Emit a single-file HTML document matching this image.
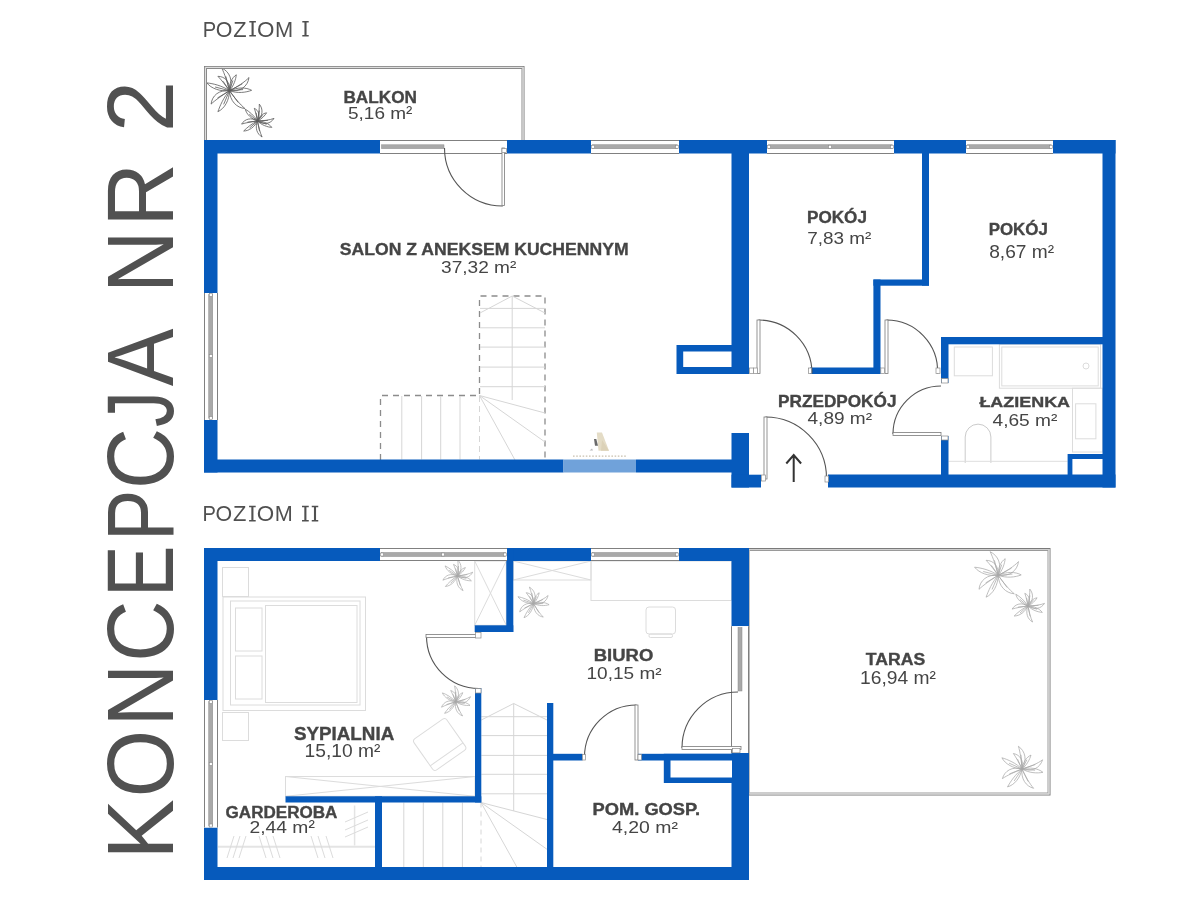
<!DOCTYPE html>
<html><head><meta charset="utf-8"><title>Koncepcja nr 2</title>
<style>html,body{margin:0;padding:0;background:#fff;width:1200px;height:900px;overflow:hidden}svg{display:block;font-family:"Liberation Sans",sans-serif;will-change:transform}</style></head><body>
<svg width="1200" height="900" viewBox="0 0 1200 900" font-family="Liberation Sans, sans-serif">
<rect width="1200" height="900" fill="#fff"/>
<path d="M380.5,460 V395.5 H479.5 V296 H545 V460" fill="none" stroke="#8c8c8c" stroke-width="1.3" stroke-dasharray="6,5"/>
<line x1="401.8" y1="396" x2="401.8" y2="459.5" stroke="#d6d6d6" stroke-width="1"/>
<line x1="421.6" y1="396" x2="421.6" y2="459.5" stroke="#d6d6d6" stroke-width="1"/>
<line x1="440.7" y1="396" x2="440.7" y2="459.5" stroke="#d6d6d6" stroke-width="1"/>
<line x1="460" y1="396" x2="460" y2="459.5" stroke="#d6d6d6" stroke-width="1"/>
<line x1="479.5" y1="396" x2="479.5" y2="459.5" stroke="#d6d6d6" stroke-width="1" stroke-dasharray="6,4"/>
<line x1="480" y1="308.4" x2="545" y2="308.4" stroke="#d6d6d6" stroke-width="1"/>
<line x1="480" y1="327.8" x2="545" y2="327.8" stroke="#d6d6d6" stroke-width="1"/>
<line x1="480" y1="347.1" x2="545" y2="347.1" stroke="#d6d6d6" stroke-width="1"/>
<line x1="480" y1="367.1" x2="545" y2="367.1" stroke="#d6d6d6" stroke-width="1"/>
<line x1="480" y1="386.7" x2="545" y2="386.7" stroke="#d6d6d6" stroke-width="1"/>
<line x1="512.2" y1="296" x2="512.2" y2="400" stroke="#d6d6d6" stroke-width="1"/>
<line x1="512.2" y1="296" x2="480" y2="313" stroke="#d6d6d6" stroke-width="1"/>
<line x1="512.2" y1="296" x2="545" y2="313" stroke="#d6d6d6" stroke-width="1"/>
<line x1="479.5" y1="395.5" x2="545" y2="413" stroke="#d6d6d6" stroke-width="1"/>
<line x1="479.5" y1="395.5" x2="545" y2="442" stroke="#d6d6d6" stroke-width="1"/>
<line x1="479.5" y1="395.5" x2="515" y2="460" stroke="#d6d6d6" stroke-width="1"/>
<line x1="481.3" y1="716.7" x2="547" y2="716.7" stroke="#d6d6d6" stroke-width="1"/>
<line x1="481.3" y1="735.6" x2="547" y2="735.6" stroke="#d6d6d6" stroke-width="1"/>
<line x1="481.3" y1="755.4" x2="547" y2="755.4" stroke="#d6d6d6" stroke-width="1"/>
<line x1="481.3" y1="774.3" x2="547" y2="774.3" stroke="#d6d6d6" stroke-width="1"/>
<line x1="481.3" y1="793.8" x2="547" y2="793.8" stroke="#d6d6d6" stroke-width="1"/>
<line x1="513.7" y1="703.5" x2="513.7" y2="811" stroke="#d6d6d6" stroke-width="1"/>
<line x1="513.7" y1="703.5" x2="481.3" y2="720" stroke="#d6d6d6" stroke-width="1"/>
<line x1="513.7" y1="703.5" x2="547" y2="720" stroke="#d6d6d6" stroke-width="1"/>
<line x1="481" y1="802.5" x2="547" y2="819.5" stroke="#d6d6d6" stroke-width="1"/>
<line x1="481" y1="802.5" x2="547" y2="849.3" stroke="#d6d6d6" stroke-width="1"/>
<line x1="481" y1="802.5" x2="516.8" y2="867" stroke="#d6d6d6" stroke-width="1"/>
<line x1="481" y1="802.5" x2="481" y2="867" stroke="#d6d6d6" stroke-width="1" stroke-dasharray="5,4"/>
<line x1="403.8" y1="802.5" x2="403.8" y2="867" stroke="#d6d6d6" stroke-width="1"/>
<line x1="423.3" y1="802.5" x2="423.3" y2="867" stroke="#d6d6d6" stroke-width="1"/>
<line x1="442.8" y1="802.5" x2="442.8" y2="867" stroke="#d6d6d6" stroke-width="1"/>
<line x1="462.4" y1="802.5" x2="462.4" y2="867" stroke="#d6d6d6" stroke-width="1"/>
<rect x="222.5" y="567.5" width="26.0" height="29.0" rx="0" fill="none" stroke="#dcdcdc" stroke-width="1"/>
<rect x="222.5" y="712.5" width="26.0" height="28.0" rx="0" fill="none" stroke="#dcdcdc" stroke-width="1"/>
<rect x="223" y="597" width="142.5" height="113.5" rx="0" fill="none" stroke="#dcdcdc" stroke-width="1"/>
<rect x="230.5" y="601" width="129.5" height="104" rx="0" fill="none" stroke="#dcdcdc" stroke-width="1"/>
<rect x="235.5" y="608" width="26.5" height="43" rx="0" fill="none" stroke="#dcdcdc" stroke-width="1"/>
<rect x="235.5" y="656" width="26.5" height="43" rx="0" fill="none" stroke="#dcdcdc" stroke-width="1"/>
<rect x="265.5" y="605.5" width="91.5" height="97.0" rx="0" fill="none" stroke="#dcdcdc" stroke-width="1"/>
<rect x="474.7" y="561" width="31.600000000000023" height="64.29999999999995" rx="0" fill="none" stroke="#dcdcdc" stroke-width="1"/>
<line x1="474.7" y1="561" x2="506.3" y2="625.3" stroke="#dcdcdc" stroke-width="1"/>
<line x1="506.3" y1="561" x2="474.7" y2="625.3" stroke="#dcdcdc" stroke-width="1"/>
<rect x="285.5" y="776.5" width="189.5" height="19.799999999999955" rx="0" fill="none" stroke="#dcdcdc" stroke-width="1"/>
<line x1="285.5" y1="776.5" x2="475" y2="796.3" stroke="#dcdcdc" stroke-width="1"/>
<line x1="285.5" y1="796.3" x2="475" y2="776.5" stroke="#dcdcdc" stroke-width="1"/>
<g transform="translate(439.7,744.5) rotate(-35)"><rect x="-20" y="-19" width="40" height="38" rx="3" fill="none" stroke="#dcdcdc"/><line x1="-20" y1="12" x2="20" y2="12" stroke="#dcdcdc"/></g>
<rect x="513.3" y="561" width="77.70000000000005" height="19" rx="0" fill="none" stroke="#dcdcdc" stroke-width="1"/>
<line x1="513.3" y1="561" x2="591" y2="580" stroke="#dcdcdc" stroke-width="1"/>
<line x1="513.3" y1="580" x2="591" y2="561" stroke="#dcdcdc" stroke-width="1"/>
<rect x="591" y="561" width="140.5" height="39.5" rx="0" fill="none" stroke="#dcdcdc" stroke-width="1"/>
<rect x="646" y="607" width="29.5" height="27" rx="3" fill="none" stroke="#dcdcdc" stroke-width="1"/>
<rect x="649" y="634" width="23.5" height="3.5" rx="1.5" fill="none" stroke="#dcdcdc" stroke-width="1"/>
<line x1="218" y1="846.8" x2="375" y2="846.8" stroke="#e4e4e4" stroke-width="2"/>
<line x1="354.6" y1="805.5" x2="354.6" y2="845.5" stroke="#e4e4e4" stroke-width="1.5"/>
<line x1="234" y1="836" x2="227" y2="858" stroke="#dcdcdc" stroke-width="1"/>
<line x1="240" y1="836" x2="233" y2="858" stroke="#dcdcdc" stroke-width="1"/>
<line x1="246" y1="836" x2="239" y2="858" stroke="#dcdcdc" stroke-width="1"/>
<line x1="259" y1="836" x2="266" y2="858" stroke="#dcdcdc" stroke-width="1"/>
<line x1="266" y1="836" x2="273" y2="858" stroke="#dcdcdc" stroke-width="1"/>
<line x1="273" y1="836" x2="280" y2="858" stroke="#dcdcdc" stroke-width="1"/>
<line x1="311" y1="836" x2="318" y2="858" stroke="#dcdcdc" stroke-width="1"/>
<line x1="318" y1="836" x2="325" y2="858" stroke="#dcdcdc" stroke-width="1"/>
<line x1="326" y1="836" x2="333" y2="858" stroke="#dcdcdc" stroke-width="1"/>
<line x1="345" y1="822" x2="368" y2="812" stroke="#dcdcdc" stroke-width="1"/>
<line x1="345" y1="830" x2="368" y2="820" stroke="#dcdcdc" stroke-width="1"/>
<line x1="345" y1="837" x2="368" y2="827" stroke="#dcdcdc" stroke-width="1"/>
<rect x="954.3" y="347" width="38.10000000000002" height="28.80000000000001" rx="0" fill="none" stroke="#dcdcdc" stroke-width="1"/>
<rect x="999.4" y="344.3" width="101.10000000000002" height="43.89999999999998" rx="0" fill="none" stroke="#dcdcdc" stroke-width="1"/>
<rect x="1001.8" y="347" width="96.40000000000009" height="38.89999999999998" rx="0" fill="none" stroke="#dcdcdc" stroke-width="1"/>
<circle cx="1086" cy="366" r="3" fill="none" stroke="#dcdcdc"/>
<rect x="1072.5" y="388.2" width="30.0" height="63.80000000000001" rx="0" fill="none" stroke="#dcdcdc" stroke-width="1"/>
<rect x="1075.6" y="403.8" width="20.300000000000182" height="35.0" rx="0" fill="none" stroke="#dcdcdc" stroke-width="1"/>
<path d="M965.2,462.9 V437 A12.85,12.85 0 0 1 990.9,437 V462.9" fill="none" stroke="#cbcbcb"/>
<line x1="948.5" y1="461.3" x2="1067.6" y2="461.3" stroke="#dedede" stroke-width="1"/>
<path d="M229.5,90.7 C233.6,80.4 229.5,71.6 221.7,68.0 C224.5,73.4 227.4,82.5 229.5,90.7 M229.5,90.7 L225.9,76.7 M229.5,90.7 C233.8,85.9 235.8,79.3 236.3,74.8 C231.9,77.6 229.0,83.9 229.5,90.7 M229.5,90.7 L232.8,80.8 M229.5,90.7 C240.5,92.3 247.8,86.3 249.0,77.5 C244.9,82.0 237.0,87.1 229.5,90.7 M229.5,90.7 L242.0,84.0 M229.5,90.7 C237.3,93.7 246.1,92.5 251.6,90.3 C246.0,87.2 237.2,87.1 229.5,90.7 M229.5,90.7 L242.7,89.6 M229.5,90.7 C229.9,101.2 236.7,107.8 244.9,108.5 C240.3,104.7 234.2,97.5 229.5,90.7 M229.5,90.7 L237.9,102.1 M229.5,90.7 C223.7,97.1 219.9,106.0 217.9,111.7 C224.6,108.5 229.4,100.3 229.5,90.7 M229.5,90.7 L223.8,104.0 M229.5,90.7 C218.8,89.5 212.0,95.7 211.1,104.1 C215.2,100.1 222.7,95.0 229.5,90.7 M229.5,90.7 L217.8,97.8 M229.5,90.7 C222.3,85.7 212.9,83.5 206.8,82.9 C211.2,88.5 220.2,91.8 229.5,90.7 M229.5,90.7 L215.5,87.1 M229.5,90.7 C230.3,81.7 225.0,76.5 217.9,76.3 C221.2,79.6 225.7,85.5 229.5,90.7 M229.5,90.7 L223.2,81.5" fill="none" stroke="#5a5a5a" stroke-width="0.8" stroke-linejoin="round" stroke-linecap="round"/>
<path d="M257.5,121.0 C263.2,115.6 263.2,108.8 259.3,104.1 C259.5,108.4 258.6,115.1 257.5,121.0 M257.5,121.0 L259.4,110.9 M257.5,121.0 C261.7,119.2 264.9,115.5 266.6,112.8 C263.0,113.3 259.2,116.5 257.5,121.0 M257.5,121.0 L262.5,115.6 M257.5,121.0 C264.1,125.4 270.6,123.7 274.0,118.4 C270.0,120.0 263.4,120.9 257.5,121.0 M257.5,121.0 L267.5,120.4 M257.5,121.0 C261.6,125.2 267.6,127.1 271.8,127.4 C269.1,123.7 263.5,121.0 257.5,121.0 M257.5,121.0 L266.3,124.2 M257.5,121.0 C254.6,127.9 257.0,134.1 262.1,137.0 C260.2,133.2 258.5,126.8 257.5,121.0 M257.5,121.0 L259.5,130.8 M257.5,121.0 C251.9,123.4 246.8,127.9 243.7,131.0 C249.0,131.0 254.6,127.1 257.5,121.0 M257.5,121.0 L249.8,127.8 M257.5,121.0 C251.0,117.0 244.8,118.9 241.6,124.1 C245.5,122.8 251.9,121.7 257.5,121.0 M257.5,121.0 L247.8,122.1 M257.5,121.0 C254.4,115.6 249.0,111.4 245.3,109.2 C246.4,114.1 251.2,118.9 257.5,121.0 M257.5,121.0 L249.6,114.5 M257.5,121.0 C260.7,115.5 258.8,110.5 254.3,108.3 C255.5,111.4 256.6,116.5 257.5,121.0 M257.5,121.0 L256.2,113.2" fill="none" stroke="#5a5a5a" stroke-width="0.8" stroke-linejoin="round" stroke-linecap="round"/>
<path d="M457.5,576.0 C462.4,570.5 461.9,564.1 457.8,560.0 C458.3,564.0 458.1,570.4 457.5,576.0 M457.5,576.0 L458.5,566.4 M457.5,576.0 C461.3,574.0 464.0,570.3 465.4,567.6 C462.0,568.4 458.8,571.7 457.5,576.0 M457.5,576.0 L461.8,570.6 M457.5,576.0 C464.0,579.5 470.0,577.4 472.7,572.2 C469.1,574.1 463.0,575.4 457.5,576.0 M457.5,576.0 L466.9,574.6 M457.5,576.0 C461.7,579.6 467.5,580.9 471.4,580.8 C468.6,577.6 463.1,575.5 457.5,576.0 M457.5,576.0 L466.0,578.3 M457.5,576.0 C455.4,582.7 458.1,588.3 463.1,590.6 C461.0,587.2 458.9,581.3 457.5,576.0 M457.5,576.0 L460.1,585.1 M457.5,576.0 C452.4,578.7 448.0,583.4 445.4,586.5 C450.3,586.0 455.3,582.0 457.5,576.0 M457.5,576.0 L450.9,583.0 M457.5,576.0 C451.0,572.8 445.4,575.1 442.9,580.2 C446.4,578.6 452.3,577.1 457.5,576.0 M457.5,576.0 L448.5,577.8 M457.5,576.0 C454.2,571.2 448.8,567.7 445.1,565.9 C446.6,570.4 451.4,574.6 457.5,576.0 M457.5,576.0 L449.5,570.6 M457.5,576.0 C460.1,570.6 457.9,566.1 453.5,564.4 C454.8,567.2 456.3,571.9 457.5,576.0 M457.5,576.0 L455.7,568.8" fill="none" stroke="#a8a8a8" stroke-width="0.7" stroke-linejoin="round" stroke-linecap="round"/>
<path d="M533.5,603.6 C537.0,596.6 534.7,590.2 529.4,587.1 C531.1,591.1 532.6,597.7 533.5,603.6 M533.5,603.6 L531.9,593.5 M533.5,603.6 C536.8,600.5 538.6,595.9 539.2,592.8 C536.0,594.5 533.6,598.8 533.5,603.6 M533.5,603.6 L536.4,596.8 M533.5,603.6 C541.2,605.4 546.7,601.6 548.1,595.5 C544.9,598.4 539.0,601.5 533.5,603.6 M533.5,603.6 L542.7,599.6 M533.5,603.6 C538.8,606.2 545.1,605.9 549.1,604.7 C545.4,602.1 539.1,601.5 533.5,603.6 M533.5,603.6 L542.9,603.6 M533.5,603.6 C533.2,611.1 537.6,616.1 543.3,617.1 C540.2,614.2 536.4,608.7 533.5,603.6 M533.5,603.6 L538.7,612.2 M533.5,603.6 C529.0,607.8 525.8,613.8 524.0,617.7 C528.9,615.9 532.9,610.3 533.5,603.6 M533.5,603.6 L528.6,612.6 M533.5,603.6 C526.0,602.1 520.8,606.0 519.7,611.9 C522.8,609.4 528.5,606.2 533.5,603.6 M533.5,603.6 L524.8,607.9 M533.5,603.6 C528.8,599.6 522.3,597.5 518.0,596.7 C520.7,600.9 526.9,603.8 533.5,603.6 M533.5,603.6 L523.8,600.2 M533.5,603.6 C534.6,597.3 531.2,593.3 526.2,592.7 C528.3,595.3 531.1,599.7 533.5,603.6 M533.5,603.6 L529.7,596.7" fill="none" stroke="#a8a8a8" stroke-width="0.7" stroke-linejoin="round" stroke-linecap="round"/>
<path d="M455.7,701.8 C460.1,695.9 459.0,689.5 454.6,685.8 C455.5,689.8 455.8,696.2 455.7,701.8 M455.7,701.8 L455.8,692.2 M455.7,701.8 C459.3,699.5 461.7,695.5 462.8,692.7 C459.5,693.8 456.6,697.4 455.7,701.8 M455.7,701.8 L459.5,696.0 M455.7,701.8 C462.5,704.8 468.2,702.1 470.5,696.7 C467.1,698.9 461.1,700.8 455.7,701.8 M455.7,701.8 L464.9,699.6 M455.7,701.8 C460.2,705.0 466.1,705.8 470.0,705.4 C466.9,702.4 461.3,700.8 455.7,701.8 M455.7,701.8 L464.4,703.4 M455.7,701.8 C454.2,708.7 457.4,714.0 462.6,715.9 C460.2,712.7 457.6,707.0 455.7,701.8 M455.7,701.8 L459.1,710.6 M455.7,701.8 C450.9,704.9 446.9,710.0 444.6,713.3 C449.4,712.4 454.0,707.9 455.7,701.8 M455.7,701.8 L449.7,709.4 M455.7,701.8 C449.0,699.2 443.6,702.0 441.5,707.2 C444.9,705.4 450.6,703.4 455.7,701.8 M455.7,701.8 L446.9,704.4 M455.7,701.8 C452.0,697.3 446.3,694.3 442.4,692.9 C444.3,697.2 449.5,700.9 455.7,701.8 M455.7,701.8 L447.3,697.1 M455.7,701.8 C457.8,696.2 455.2,691.9 450.7,690.5 C452.3,693.2 454.1,697.8 455.7,701.8 M455.7,701.8 L453.3,694.8" fill="none" stroke="#a8a8a8" stroke-width="0.7" stroke-linejoin="round" stroke-linecap="round"/>
<path d="M998.2,575.3 C1002.4,564.6 998.2,555.5 990.1,551.7 C993.0,557.2 996.1,566.8 998.2,575.3 M998.2,575.3 L994.5,560.7 M998.2,575.3 C1002.6,570.3 1004.7,563.4 1005.2,558.7 C1000.7,561.7 997.7,568.3 998.2,575.3 M998.2,575.3 L1001.6,565.0 M998.2,575.3 C1009.7,577.0 1017.3,570.7 1018.5,561.6 C1014.3,566.2 1006.0,571.5 998.2,575.3 M998.2,575.3 L1011.2,568.3 M998.2,575.3 C1006.3,578.4 1015.5,577.2 1021.2,574.9 C1015.4,571.6 1006.2,571.5 998.2,575.3 M998.2,575.3 L1012.0,574.1 M998.2,575.3 C998.6,586.3 1005.7,593.1 1014.3,593.8 C1009.4,589.9 1003.1,582.4 998.2,575.3 M998.2,575.3 L1006.9,587.2 M998.2,575.3 C992.2,582.0 988.2,591.2 986.1,597.2 C993.0,593.9 998.1,585.3 998.2,575.3 M998.2,575.3 L992.2,589.1 M998.2,575.3 C987.0,574.0 979.9,580.5 979.0,589.3 C983.3,585.1 991.2,579.7 998.2,575.3 M998.2,575.3 L986.0,582.7 M998.2,575.3 C990.7,570.1 981.0,567.8 974.6,567.2 C979.2,573.0 988.5,576.5 998.2,575.3 M998.2,575.3 L983.6,571.6 M998.2,575.3 C999.0,565.9 993.5,560.5 986.1,560.3 C989.5,563.7 994.2,569.9 998.2,575.3 M998.2,575.3 L991.7,565.7" fill="none" stroke="#a8a8a8" stroke-width="0.75" stroke-linejoin="round" stroke-linecap="round"/>
<path d="M1028.0,606.0 C1033.7,600.6 1033.7,593.8 1029.8,589.1 C1030.0,593.4 1029.1,600.1 1028.0,606.0 M1028.0,606.0 L1029.9,595.9 M1028.0,606.0 C1032.2,604.2 1035.4,600.5 1037.1,597.8 C1033.5,598.3 1029.7,601.5 1028.0,606.0 M1028.0,606.0 L1033.0,600.6 M1028.0,606.0 C1034.6,610.4 1041.1,608.7 1044.5,603.4 C1040.5,605.0 1033.9,605.9 1028.0,606.0 M1028.0,606.0 L1038.0,605.4 M1028.0,606.0 C1032.1,610.2 1038.1,612.1 1042.3,612.4 C1039.6,608.7 1034.0,606.0 1028.0,606.0 M1028.0,606.0 L1036.8,609.2 M1028.0,606.0 C1025.1,612.9 1027.5,619.1 1032.6,622.0 C1030.7,618.2 1029.0,611.8 1028.0,606.0 M1028.0,606.0 L1030.0,615.8 M1028.0,606.0 C1022.4,608.4 1017.3,612.9 1014.2,616.0 C1019.5,616.0 1025.1,612.1 1028.0,606.0 M1028.0,606.0 L1020.3,612.8 M1028.0,606.0 C1021.5,602.0 1015.3,603.9 1012.1,609.1 C1016.0,607.8 1022.4,606.7 1028.0,606.0 M1028.0,606.0 L1018.3,607.1 M1028.0,606.0 C1024.9,600.6 1019.5,596.4 1015.8,594.2 C1016.9,599.1 1021.7,603.9 1028.0,606.0 M1028.0,606.0 L1020.1,599.5 M1028.0,606.0 C1031.2,600.5 1029.3,595.5 1024.8,593.3 C1026.0,596.4 1027.1,601.5 1028.0,606.0 M1028.0,606.0 L1026.7,598.2" fill="none" stroke="#a8a8a8" stroke-width="0.75" stroke-linejoin="round" stroke-linecap="round"/>
<path d="M1022.0,769.0 C1027.6,760.0 1025.2,751.0 1018.4,746.3 C1020.2,751.8 1021.4,760.9 1022.0,769.0 M1022.0,769.0 L1021.0,755.2 M1022.0,769.0 C1026.8,765.2 1029.8,759.3 1031.0,755.1 C1026.5,757.1 1022.7,762.5 1022.0,769.0 M1022.0,769.0 L1026.7,760.2 M1022.0,769.0 C1032.1,772.4 1040.0,767.9 1042.6,759.8 C1038.0,763.4 1029.7,766.8 1022.0,769.0 M1022.0,769.0 L1034.9,764.7 M1022.0,769.0 C1028.9,773.1 1037.4,773.5 1042.9,772.3 C1038.2,768.4 1029.8,766.9 1022.0,769.0 M1022.0,769.0 L1034.7,770.2 M1022.0,769.0 C1020.7,779.0 1026.0,786.3 1033.6,788.3 C1029.8,784.0 1025.3,776.2 1022.0,769.0 M1022.0,769.0 L1028.0,781.2 M1022.0,769.0 C1015.5,774.1 1010.4,781.8 1007.5,786.9 C1014.4,785.0 1020.3,778.0 1022.0,769.0 M1022.0,769.0 L1014.4,780.6 M1022.0,769.0 C1012.1,766.1 1004.6,770.8 1002.4,778.6 C1006.9,775.5 1014.9,771.9 1022.0,769.0 M1022.0,769.0 L1009.7,773.8 M1022.0,769.0 C1016.1,763.1 1007.6,759.4 1001.9,757.8 C1005.1,763.9 1013.1,768.5 1022.0,769.0 M1022.0,769.0 L1009.4,763.3 M1022.0,769.0 C1024.3,760.7 1020.1,754.9 1013.4,753.5 C1016.0,757.1 1019.2,763.4 1022.0,769.0 M1022.0,769.0 L1017.6,759.3" fill="none" stroke="#a8a8a8" stroke-width="0.75" stroke-linejoin="round" stroke-linecap="round"/>
<path d="M596.8,432.5 L602,432.5 L609,450.8 L598.5,450.8 Z" fill="#e4dcc6"/><path d="M602,440 L609,450.8 L601,450.8 Z" fill="#dcd2b8"/><path d="M594,439 L596.3,439 L598,445.8 L595,445.8 Z" fill="#6a6a6a"/><path d="M589.5,450.5 L592,448.5 L593,450.5 Z" fill="#bbb"/><line x1="573" y1="456.2" x2="626" y2="456.2" stroke="#c9c0ae" stroke-width="1.3" stroke-dasharray="1.6,1.6"/>
<rect x="204.5" y="66.5" width="319.5" height="80" fill="none" stroke="#7a7a7a" stroke-width="1"/>
<rect x="206.5" y="68.5" width="315.5" height="80" fill="none" stroke="#8a8a8a" stroke-width="1"/>
<rect x="205.2" y="67.2" width="318" height="80" fill="none" stroke="#d0d0d0" stroke-width="1"/>
<rect x="749" y="548.5" width="301" height="246.5" fill="none" stroke="#7a7a7a" stroke-width="1"/>
<rect x="749" y="550.5" width="299" height="242.5" fill="none" stroke="#9a9a9a" stroke-width="1"/>
<rect x="749" y="549.5" width="300" height="244.5" fill="none" stroke="#d0d0d0" stroke-width="1"/>
<rect x="204" y="140" width="176.00" height="13.50" fill="#065abc"/>
<rect x="507" y="140" width="84.00" height="13.50" fill="#065abc"/>
<rect x="679" y="140" width="88.00" height="13.50" fill="#065abc"/>
<rect x="894" y="140" width="72.00" height="13.50" fill="#065abc"/>
<rect x="1053" y="140" width="62.50" height="13.50" fill="#065abc"/>
<rect x="204" y="140" width="13.50" height="153.00" fill="#065abc"/>
<rect x="204" y="420" width="13.50" height="52.50" fill="#065abc"/>
<rect x="204" y="459.5" width="359.50" height="13.00" fill="#065abc"/>
<rect x="563.5" y="459.5" width="72.50" height="13.00" fill="#70a2da"/>
<rect x="636" y="459.5" width="113.00" height="13.00" fill="#065abc"/>
<rect x="731.5" y="140" width="17.50" height="234.00" fill="#065abc"/>
<rect x="676.5" y="345" width="72.50" height="29.00" fill="#065abc"/>
<rect x="683.2" y="351.5" width="48.30" height="15.50" fill="#fff"/>
<rect x="731.5" y="433" width="17.50" height="54.50" fill="#065abc"/>
<rect x="731.5" y="474.7" width="29.50" height="12.80" fill="#065abc"/>
<rect x="828" y="474.5" width="287.50" height="13.00" fill="#065abc"/>
<rect x="1102.5" y="140" width="13.00" height="347.50" fill="#065abc"/>
<rect x="922" y="140" width="7.00" height="145.70" fill="#065abc"/>
<rect x="873.4" y="279.5" width="55.60" height="6.20" fill="#065abc"/>
<rect x="873.4" y="279.5" width="7.10" height="94.50" fill="#065abc"/>
<rect x="810" y="367.5" width="70.50" height="6.50" fill="#065abc"/>
<rect x="941" y="337" width="162.00" height="7.30" fill="#065abc"/>
<rect x="941" y="337" width="7.50" height="46.00" fill="#065abc"/>
<rect x="941" y="436" width="7.50" height="39.00" fill="#065abc"/>
<rect x="1067.6" y="454" width="35.40" height="21.00" fill="#065abc"/>
<rect x="1072.4" y="459" width="30.10" height="15.50" fill="#fff"/>
<rect x="204" y="548" width="176.00" height="13.00" fill="#065abc"/>
<rect x="507" y="548" width="84.00" height="13.00" fill="#065abc"/>
<rect x="679" y="548" width="70.00" height="13.00" fill="#065abc"/>
<rect x="204" y="548" width="13.50" height="152.00" fill="#065abc"/>
<rect x="204" y="827.5" width="13.50" height="52.50" fill="#065abc"/>
<rect x="204" y="867" width="545.00" height="13.00" fill="#065abc"/>
<rect x="731.5" y="548" width="17.50" height="78.20" fill="#065abc"/>
<rect x="731.5" y="753" width="17.50" height="127.00" fill="#065abc"/>
<rect x="506.3" y="548" width="7.00" height="84.00" fill="#065abc"/>
<rect x="474.7" y="625.3" width="38.60" height="6.70" fill="#065abc"/>
<rect x="475" y="688" width="6.30" height="114.50" fill="#065abc"/>
<rect x="285.5" y="796.3" width="195.80" height="6.20" fill="#065abc"/>
<rect x="375" y="796.3" width="7.00" height="70.70" fill="#065abc"/>
<rect x="547" y="703" width="6.30" height="164.00" fill="#065abc"/>
<rect x="547" y="753.8" width="35.50" height="6.70" fill="#065abc"/>
<rect x="638" y="753.8" width="111.00" height="6.70" fill="#065abc"/>
<rect x="663.8" y="753.8" width="85.20" height="29.20" fill="#065abc"/>
<rect x="670.5" y="760.5" width="61.50" height="17.00" fill="#fff"/>
<rect x="204" y="293" width="13.5" height="127" fill="#fff"/><line x1="204.5" y1="293" x2="204.5" y2="420" stroke="#808080" stroke-width="1"/><line x1="217.5" y1="293" x2="217.5" y2="420" stroke="#808080" stroke-width="1"/><rect x="208.75" y="294.5" width="4" height="124" fill="#a9a9a9" stroke="#8a8a8a" stroke-width="0.5"/><rect x="209.25" y="293.5" width="3" height="3" fill="#fff" stroke="#888" stroke-width="0.6"/><rect x="209.25" y="416.5" width="3" height="3" fill="#fff" stroke="#888" stroke-width="0.6"/><rect x="209.25" y="354.5" width="3" height="3" fill="#fff" stroke="#888" stroke-width="0.6"/>
<rect x="591" y="140" width="88" height="13.5" fill="#fff"/><line x1="591" y1="140.5" x2="679" y2="140.5" stroke="#808080" stroke-width="1"/><line x1="591" y1="153.5" x2="679" y2="153.5" stroke="#808080" stroke-width="1"/><rect x="592.5" y="144.75" width="85" height="4" fill="#a9a9a9" stroke="#8a8a8a" stroke-width="0.5"/><rect x="591.5" y="145.25" width="3" height="3" fill="#fff" stroke="#888" stroke-width="0.6"/><rect x="675.5" y="145.25" width="3" height="3" fill="#fff" stroke="#888" stroke-width="0.6"/>
<rect x="767" y="140" width="127" height="13.5" fill="#fff"/><line x1="767" y1="140.5" x2="894" y2="140.5" stroke="#808080" stroke-width="1"/><line x1="767" y1="153.5" x2="894" y2="153.5" stroke="#808080" stroke-width="1"/><rect x="768.5" y="144.75" width="124" height="4" fill="#a9a9a9" stroke="#8a8a8a" stroke-width="0.5"/><rect x="767.5" y="145.25" width="3" height="3" fill="#fff" stroke="#888" stroke-width="0.6"/><rect x="890.5" y="145.25" width="3" height="3" fill="#fff" stroke="#888" stroke-width="0.6"/><rect x="828.5" y="145.25" width="3" height="3" fill="#fff" stroke="#888" stroke-width="0.6"/>
<rect x="966" y="140" width="87" height="13.5" fill="#fff"/><line x1="966" y1="140.5" x2="1053" y2="140.5" stroke="#808080" stroke-width="1"/><line x1="966" y1="153.5" x2="1053" y2="153.5" stroke="#808080" stroke-width="1"/><rect x="967.5" y="144.75" width="84" height="4" fill="#a9a9a9" stroke="#8a8a8a" stroke-width="0.5"/><rect x="966.5" y="145.25" width="3" height="3" fill="#fff" stroke="#888" stroke-width="0.6"/><rect x="1049.5" y="145.25" width="3" height="3" fill="#fff" stroke="#888" stroke-width="0.6"/>
<rect x="380" y="140" width="127" height="13.5" fill="#fff"/><line x1="380" y1="140.5" x2="507" y2="140.5" stroke="#808080" stroke-width="1"/><line x1="380" y1="153.5" x2="507" y2="153.5" stroke="#808080" stroke-width="1"/>
<rect x="381.5" y="144.8" width="62.5" height="3.8" fill="#a9a9a9" stroke="#8a8a8a" stroke-width="0.5"/>
<rect x="380" y="548" width="127" height="13" fill="#fff"/><line x1="380" y1="548.5" x2="507" y2="548.5" stroke="#808080" stroke-width="1"/><line x1="380" y1="560.5" x2="507" y2="560.5" stroke="#808080" stroke-width="1"/><rect x="381.5" y="552.5" width="124" height="4" fill="#a9a9a9" stroke="#8a8a8a" stroke-width="0.5"/><rect x="380.5" y="553.0" width="3" height="3" fill="#fff" stroke="#888" stroke-width="0.6"/><rect x="503.5" y="553.0" width="3" height="3" fill="#fff" stroke="#888" stroke-width="0.6"/><rect x="441.5" y="553.0" width="3" height="3" fill="#fff" stroke="#888" stroke-width="0.6"/>
<rect x="591" y="548" width="88" height="13" fill="#fff"/><line x1="591" y1="548.5" x2="679" y2="548.5" stroke="#808080" stroke-width="1"/><line x1="591" y1="560.5" x2="679" y2="560.5" stroke="#808080" stroke-width="1"/><rect x="592.5" y="552.5" width="85" height="4" fill="#a9a9a9" stroke="#8a8a8a" stroke-width="0.5"/><rect x="591.5" y="553.0" width="3" height="3" fill="#fff" stroke="#888" stroke-width="0.6"/><rect x="675.5" y="553.0" width="3" height="3" fill="#fff" stroke="#888" stroke-width="0.6"/>
<rect x="204" y="700" width="13.5" height="127.5" fill="#fff"/><line x1="204.5" y1="700" x2="204.5" y2="827.5" stroke="#808080" stroke-width="1"/><line x1="217.5" y1="700" x2="217.5" y2="827.5" stroke="#808080" stroke-width="1"/><rect x="208.75" y="701.5" width="4" height="124.5" fill="#a9a9a9" stroke="#8a8a8a" stroke-width="0.5"/><rect x="209.25" y="700.5" width="3" height="3" fill="#fff" stroke="#888" stroke-width="0.6"/><rect x="209.25" y="824.0" width="3" height="3" fill="#fff" stroke="#888" stroke-width="0.6"/><rect x="209.25" y="762.5" width="3" height="3" fill="#fff" stroke="#888" stroke-width="0.6"/>
<rect x="731.5" y="626.2" width="17.5" height="126.79999999999995" fill="#fff"/><line x1="731.5" y1="626.2" x2="731.5" y2="753" stroke="#808080" stroke-width="1"/><line x1="748.5" y1="626.2" x2="748.5" y2="753" stroke="#808080" stroke-width="1"/>
<rect x="738" y="627.5" width="4" height="63.5" fill="#a9a9a9" stroke="#8a8a8a" stroke-width="0.5"/>
<path d="M444.5,148 A58,58 0 0 0 502.8,206" fill="none" stroke="#555" stroke-width="1.1"/><rect x="502" y="148" width="2.5" height="57.5" fill="#fff" stroke="#7a7a7a" stroke-width="0.8"/>
<path d="M758.5,320 A53.5,53.5 0 0 1 812,373.5" fill="none" stroke="#555" stroke-width="1.1"/><rect x="757" y="320" width="3" height="53.5" fill="#fff" stroke="#7a7a7a" stroke-width="0.8"/>
<path d="M886.5,320 A51,51 0 0 1 937.5,373.5" fill="none" stroke="#555" stroke-width="1.1"/><rect x="885" y="320" width="3" height="53.5" fill="#fff" stroke="#7a7a7a" stroke-width="0.8"/>
<path d="M893,434 A48,48 0 0 1 941,386" fill="none" stroke="#555" stroke-width="1.1"/><rect x="893" y="432.5" width="48" height="3.0" fill="#fff" stroke="#7a7a7a" stroke-width="0.8"/>
<path d="M765.5,417 A61,61 0 0 1 826.5,478" fill="none" stroke="#555" stroke-width="1.1"/><rect x="764" y="417" width="3" height="62" fill="#fff" stroke="#7a7a7a" stroke-width="0.8"/>
<path d="M426.5,636 A52.5,52.5 0 0 0 479,688.5" fill="none" stroke="#555" stroke-width="1.1"/><rect x="426" y="634.5" width="53" height="3.0" fill="#fff" stroke="#7a7a7a" stroke-width="0.8"/>
<path d="M636.5,705 A52,52 0 0 0 584.5,757" fill="none" stroke="#555" stroke-width="1.1"/><rect x="635" y="705" width="3" height="55" fill="#fff" stroke="#7a7a7a" stroke-width="0.8"/>
<path d="M682,748 A56,56 0 0 1 738,692" fill="none" stroke="#555" stroke-width="1.1"/><rect x="682" y="746.5" width="59" height="3.0" fill="#fff" stroke="#7a7a7a" stroke-width="0.8"/>
<rect x="749.5" y="368" width="4.0" height="5.5" fill="#fff" stroke="#8a8a8a" stroke-width="0.7"/>
<rect x="753.5" y="368" width="4.0" height="5.5" fill="#fff" stroke="#8a8a8a" stroke-width="0.7"/>
<rect x="808.5" y="368" width="3.0" height="5.5" fill="#fff" stroke="#8a8a8a" stroke-width="0.7"/>
<rect x="880.8" y="368" width="3.7000000000000455" height="5.5" fill="#fff" stroke="#8a8a8a" stroke-width="0.7"/>
<rect x="936" y="368" width="4" height="5.5" fill="#fff" stroke="#8a8a8a" stroke-width="0.7"/>
<rect x="941.5" y="378.5" width="6.5" height="4.5" fill="#fff" stroke="#8a8a8a" stroke-width="0.7"/>
<rect x="941.5" y="436" width="6.5" height="4" fill="#fff" stroke="#8a8a8a" stroke-width="0.7"/>
<rect x="761.5" y="475" width="4.0" height="6" fill="#fff" stroke="#8a8a8a" stroke-width="0.7"/>
<rect x="825" y="476" width="3.5" height="6" fill="#fff" stroke="#8a8a8a" stroke-width="0.7"/>
<rect x="475.5" y="632.5" width="5.5" height="5.5" fill="#fff" stroke="#8a8a8a" stroke-width="0.7"/>
<rect x="475.5" y="688.5" width="5.5" height="4.5" fill="#fff" stroke="#8a8a8a" stroke-width="0.7"/>
<rect x="582.5" y="754.5" width="3.0" height="5.5" fill="#fff" stroke="#8a8a8a" stroke-width="0.7"/>
<rect x="638" y="754.5" width="3.5" height="5.5" fill="#fff" stroke="#8a8a8a" stroke-width="0.7"/>
<rect x="732.5" y="748.5" width="7.5" height="4.2999999999999545" fill="#fff" stroke="#8a8a8a" stroke-width="0.7"/>
<rect x="502" y="148.5" width="4.5" height="4.0" fill="#fff" stroke="#8a8a8a" stroke-width="0.7"/>
<path d="M793.7,482 V455.5 M786.3,463.5 L793.7,455 L801.1,463.5" fill="none" stroke="#333" stroke-width="2"/>
<text transform="translate(202.65,36.60) scale(0.8866,1)" font-size="22.67" font-weight="normal" fill="#505050" >P</text>
<text transform="translate(215.69,36.60) scale(0.9433,1)" font-size="22.67" font-weight="normal" fill="#505050" >O</text>
<text transform="translate(233.30,36.60) scale(0.9660,1)" font-size="22.67" font-weight="normal" fill="#505050" >Z</text>
<text transform="translate(256.94,36.60) scale(0.9885,1)" font-size="22.67" font-weight="normal" fill="#505050" >O</text>
<text transform="translate(274.91,36.60) scale(0.9626,1)" font-size="22.67" font-weight="normal" fill="#505050" >M</text>
<path d="M249.3,21 H255.9 V22.5 H253.65000000000003 V35.1 H255.9 V36.6 H249.3 V35.1 H251.55 V22.5 H249.3 Z" fill="#505050"/>
<path d="M302.3,21 H308.7 V22.5 H306.55 V35.1 H308.7 V36.6 H302.3 V35.1 H304.45 V22.5 H302.3 Z" fill="#505050"/>
<text transform="translate(202.45,521.40) scale(0.8810,1)" font-size="22.82" font-weight="normal" fill="#505050" >P</text>
<text transform="translate(215.49,521.40) scale(0.9373,1)" font-size="22.82" font-weight="normal" fill="#505050" >O</text>
<text transform="translate(233.10,521.40) scale(0.9599,1)" font-size="22.82" font-weight="normal" fill="#505050" >Z</text>
<text transform="translate(256.74,521.40) scale(0.9822,1)" font-size="22.82" font-weight="normal" fill="#505050" >O</text>
<text transform="translate(274.72,521.40) scale(0.9499,1)" font-size="22.82" font-weight="normal" fill="#505050" >M</text>
<path d="M249.1,505.7 H255.7 V507.2 H253.45 V519.9 H255.7 V521.4 H249.1 V519.9 H251.34999999999997 V507.2 H249.1 Z" fill="#505050"/>
<path d="M302,505.7 H308.75 V507.2 H306.425 V519.9 H308.75 V521.4 H302 V519.9 H304.325 V507.2 H302 Z" fill="#505050"/>
<path d="M311.75,505.7 H318.25 V507.2 H316.05 V519.9 H318.25 V521.4 H311.75 V519.9 H313.95 V507.2 H311.75 Z" fill="#505050"/>
<text x="343.45" y="102.70" font-size="16.64" font-weight="bold" textLength="73.51" lengthAdjust="spacingAndGlyphs" fill="#454545"  stroke="#454545" stroke-width="0.35">BALKON</text>
<text x="347.99" y="119.20" font-size="17.01" font-weight="normal" textLength="64.37" lengthAdjust="spacingAndGlyphs" fill="#454545" >5,16 m²</text>
<text x="339.89" y="254.70" font-size="17.15" font-weight="bold" textLength="288.68" lengthAdjust="spacingAndGlyphs" fill="#454545"  stroke="#454545" stroke-width="0.35">SALON Z ANEKSEM KUCHENNYM</text>
<text x="441.07" y="272.60" font-size="17.15" font-weight="normal" textLength="75.29" lengthAdjust="spacingAndGlyphs" fill="#454545" >37,32 m²</text>
<text x="807.06" y="222.50" font-size="16.35" font-weight="bold" textLength="59.91" lengthAdjust="spacingAndGlyphs" fill="#454545"  stroke="#454545" stroke-width="0.35">POKÓJ</text>
<text x="807.23" y="244.30" font-size="17.15" font-weight="normal" textLength="64.13" lengthAdjust="spacingAndGlyphs" fill="#454545" >7,83 m²</text>
<text x="988.67" y="235.00" font-size="16.72" font-weight="bold" textLength="59.29" lengthAdjust="spacingAndGlyphs" fill="#454545"  stroke="#454545" stroke-width="0.35">POKÓJ</text>
<text x="989.17" y="257.90" font-size="18.17" font-weight="normal" textLength="64.95" lengthAdjust="spacingAndGlyphs" fill="#454545" >8,67 m²</text>
<text x="778.05" y="406.80" font-size="15.70" font-weight="bold" textLength="118.42" lengthAdjust="spacingAndGlyphs" fill="#454545"  stroke="#454545" stroke-width="0.35">PRZEDPOKÓJ</text>
<text x="807.56" y="424.00" font-size="15.99" font-weight="normal" textLength="64.50" lengthAdjust="spacingAndGlyphs" fill="#454545" >4,89 m²</text>
<text x="979.40" y="407.00" font-size="15.12" font-weight="bold" textLength="90.67" lengthAdjust="spacingAndGlyphs" fill="#454545"  stroke="#454545" stroke-width="0.35">ŁAZIENKA</text>
<text x="992.56" y="426.00" font-size="16.86" font-weight="normal" textLength="64.80" lengthAdjust="spacingAndGlyphs" fill="#454545" >4,65 m²</text>
<text x="293.96" y="740.00" font-size="17.44" font-weight="bold" textLength="100.29" lengthAdjust="spacingAndGlyphs" fill="#454545"  stroke="#454545" stroke-width="0.35">SYPIALNIA</text>
<text x="304.54" y="757.00" font-size="17.44" font-weight="normal" textLength="75.83" lengthAdjust="spacingAndGlyphs" fill="#454545" >15,10 m²</text>
<text x="593.76" y="661.25" font-size="16.35" font-weight="bold" textLength="59.51" lengthAdjust="spacingAndGlyphs" fill="#454545"  stroke="#454545" stroke-width="0.35">BIURO</text>
<text x="586.55" y="679.25" font-size="16.35" font-weight="normal" textLength="75.06" lengthAdjust="spacingAndGlyphs" fill="#454545" >10,15 m²</text>
<text x="865.81" y="664.60" font-size="16.13" font-weight="bold" textLength="59.37" lengthAdjust="spacingAndGlyphs" fill="#454545"  stroke="#454545" stroke-width="0.35">TARAS</text>
<text x="860.03" y="683.50" font-size="17.44" font-weight="normal" textLength="75.93" lengthAdjust="spacingAndGlyphs" fill="#454545" >16,94 m²</text>
<text x="225.55" y="817.50" font-size="16.35" font-weight="bold" textLength="111.90" lengthAdjust="spacingAndGlyphs" fill="#454545"  stroke="#454545" stroke-width="0.35">GARDEROBA</text>
<text x="249.53" y="833.00" font-size="17.08" font-weight="normal" textLength="65.34" lengthAdjust="spacingAndGlyphs" fill="#454545" >2,44 m²</text>
<text x="592.55" y="815.00" font-size="15.63" font-weight="bold" textLength="107.43" lengthAdjust="spacingAndGlyphs" fill="#454545"  stroke="#454545" stroke-width="0.35">POM. GOSP.</text>
<text x="612.05" y="833.00" font-size="16.35" font-weight="normal" textLength="65.82" lengthAdjust="spacingAndGlyphs" fill="#454545" >4,20 m²</text>
<text transform="rotate(-90) translate(-859.65,172.50) scale(0.9641,1)" font-size="94.19" fill="#515151">K</text>
<text transform="rotate(-90) translate(-797.62,172.50) scale(0.9239,1)" font-size="94.19" fill="#515151">O</text>
<text transform="rotate(-90) translate(-726.68,172.50) scale(0.9295,1)" font-size="94.19" fill="#515151">N</text>
<text transform="rotate(-90) translate(-661.71,172.50) scale(0.9003,1)" font-size="94.19" fill="#515151">C</text>
<text transform="rotate(-90) translate(-597.29,172.50) scale(0.8267,1)" font-size="94.19" fill="#515151">E</text>
<text transform="rotate(-90) translate(-540.90,172.50) scale(0.8159,1)" font-size="94.19" fill="#515151">P</text>
<text transform="rotate(-90) translate(-488.98,172.50) scale(0.8953,1)" font-size="94.19" fill="#515151">C</text>
<text transform="rotate(-90) translate(-427.12,172.50) scale(0.7585,1)" font-size="94.19" fill="#515151">J</text>
<text transform="rotate(-90) translate(-386.17,172.50) scale(0.9175,1)" font-size="94.19" fill="#515151">A</text>
<text transform="rotate(-90) translate(-293.24,172.50) scale(0.9237,1)" font-size="94.19" fill="#515151">N</text>
<text transform="rotate(-90) translate(-226.84,172.50) scale(0.9370,1)" font-size="94.19" fill="#515151">R</text>
<text transform="rotate(-90) translate(-132.16,172.50) scale(0.9835,1)" font-size="94.19" fill="#515151">2</text>
</svg>
</body></html>
